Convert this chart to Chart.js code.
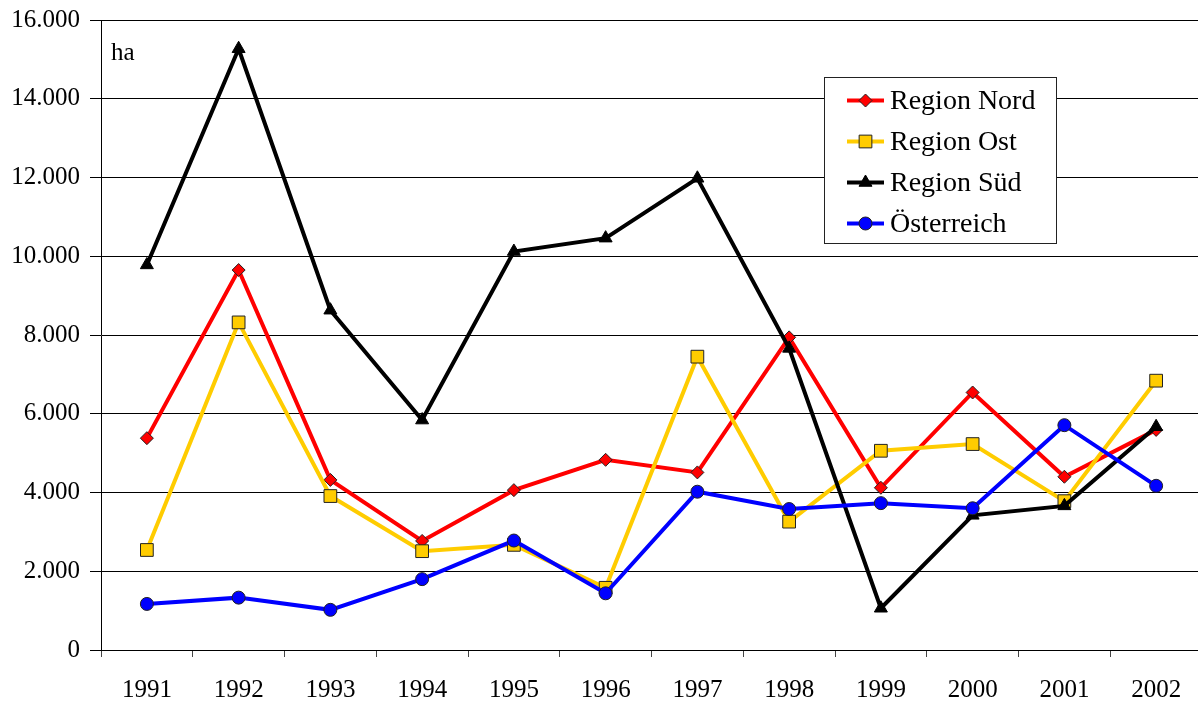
<!DOCTYPE html>
<html>
<head>
<meta charset="utf-8">
<script src="https://cdn.jsdelivr.net/npm/chart.js@4.4.1/dist/chart.umd.min.js"></script>
<style>
    html, body { margin: 0; padding: 0; background: #ffffff; overflow: hidden; }
    #wrap { width: 1198px; height: 702px; overflow: hidden; }
</style>
</head>
<body>
<div id="wrap"><canvas id="areaChart" width="1212" height="702"></canvas></div>
<script>
const years = ["1991", "1992", "1993", "1994", "1995", "1996", "1997", "1998", "1999", "2000", "2001", "2002"];

const regionNord = [5380, 9650, 4320, 2770, 4060, 4830, 4510, 7940, 4120, 6540, 4400, 5590];
const regionOst = [2540, 8320, 3910, 2510, 2670, 1580, 7450, 3260, 5060, 5230, 3780, 6840];
const regionSued = [9780, 15270, 8630, 5840, 10120, 10460, 11980, 7660, 1060, 3420, 3660, 5670];
const oesterreich = [1170, 1330, 1020, 1800, 2780, 1440, 4020, 3580, 3730, 3600, 5710, 4170];

const yTickLabels = ["0", "2.000", "4.000", "6.000", "8.000", "10.000", "12.000", "14.000", "16.000"];
const unitLabel = "ha";

const serif = "'Liberation Serif', 'Times New Roman', serif";

function series(label, data, color, style, radius, order) {
    return {
        label: label,
        data: data,
        borderColor: color,
        backgroundColor: color,
        borderWidth: 4,
        tension: 0,
        pointStyle: style,
        pointRadius: radius,
        pointHoverRadius: radius,
        pointBackgroundColor: color,
        pointBorderColor: color === "#000000" ? "#000000" : "#222222",
        pointBorderWidth: 1,
        order: order
    };
}

const datasets = [
    series("Region Nord", regionNord, "#ff0000", "rectRot", 6.5, 4),
    series("Region Ost", regionOst, "#ffcc00", "rect", 9, 3),
    series("Region Süd", regionSued, "#000000", "triangle", 7.5, 2),
    series("Österreich", oesterreich, "#0000ff", "circle", 6.5, 1)
];

// legend box and "ha" label drawn by hand, Excel style
const boxLegend = {
    id: "boxLegend",
    afterDraw(chart) {
        const ctx = chart.ctx;
        ctx.save();

        ctx.font = "25px " + serif;
        ctx.fillStyle = "#000000";
        ctx.textBaseline = "alphabetic";
        ctx.textAlign = "left";
        ctx.fillText(unitLabel, chart.chartArea.left + 10, 60);

        const left = 824.5, top = 77.5, w = 232, h = 166;
        ctx.fillStyle = "#ffffff";
        ctx.fillRect(left, top, w, h);
        ctx.strokeStyle = "#222222";
        ctx.lineWidth = 1;
        ctx.strokeRect(left, top, w, h);

        ctx.font = "28px " + serif;
        ctx.textBaseline = "middle";
        datasets.forEach((ds, i) => {
            const y = top + 23 + i * 41;
            ctx.strokeStyle = ds.borderColor;
            ctx.lineWidth = 4;
            ctx.beginPath();
            ctx.moveTo(847, y);
            ctx.lineTo(884, y);
            ctx.stroke();

            ctx.fillStyle = ds.pointBackgroundColor;
            ctx.strokeStyle = ds.pointBorderColor;
            ctx.lineWidth = 1;
            Chart.helpers.drawPoint(ctx, {
                pointStyle: ds.pointStyle,
                radius: ds.pointRadius,
                borderWidth: 1,
                rotation: 0
            }, 865.5, y);

            ctx.fillStyle = "#000000";
            ctx.fillText(ds.label, 890, y + 1);
        });
        ctx.restore();
    }
};

new Chart(document.getElementById("areaChart"), {
    type: "line",
    data: {
        labels: years,
        datasets: datasets
    },
    options: {
        responsive: false,
        animation: false,
        layout: {
            padding: { top: 20, right: 0, bottom: 0, left: 0 }
        },
        plugins: {
            legend: { display: false },
            tooltip: { enabled: false }
        },
        scales: {
            x: {
                offset: true,
                grid: {
                    offset: true,
                    drawOnChartArea: false,
                    drawTicks: true,
                    tickLength: 7,
                    color: "#444444"
                },
                border: { color: "#000000", width: 1 },
                ticks: {
                    color: "#000000",
                    font: { family: serif, size: 25 },
                    padding: 18,
                    maxRotation: 0
                },
                afterFit(scale) {
                    scale.height = 52;
                    scale.paddingLeft = 0;
                    scale.paddingRight = 0;
                }
            },
            y: {
                min: 0,
                max: 16000,
                grid: {
                    color: "#000000",
                    lineWidth: 1,
                    tickLength: 11
                },
                border: { color: "#000000", width: 1 },
                ticks: {
                    stepSize: 2000,
                    color: "#000000",
                    font: { family: serif, size: 25 },
                    padding: 10,
                    callback: (v, i) => yTickLabels[i]
                },
                afterFit(scale) {
                    scale.width = 101;
                    scale.paddingTop = 0;
                    scale.paddingBottom = 0;
                }
            }
        }
    },
    plugins: [boxLegend]
});
</script>
</body>
</html>
